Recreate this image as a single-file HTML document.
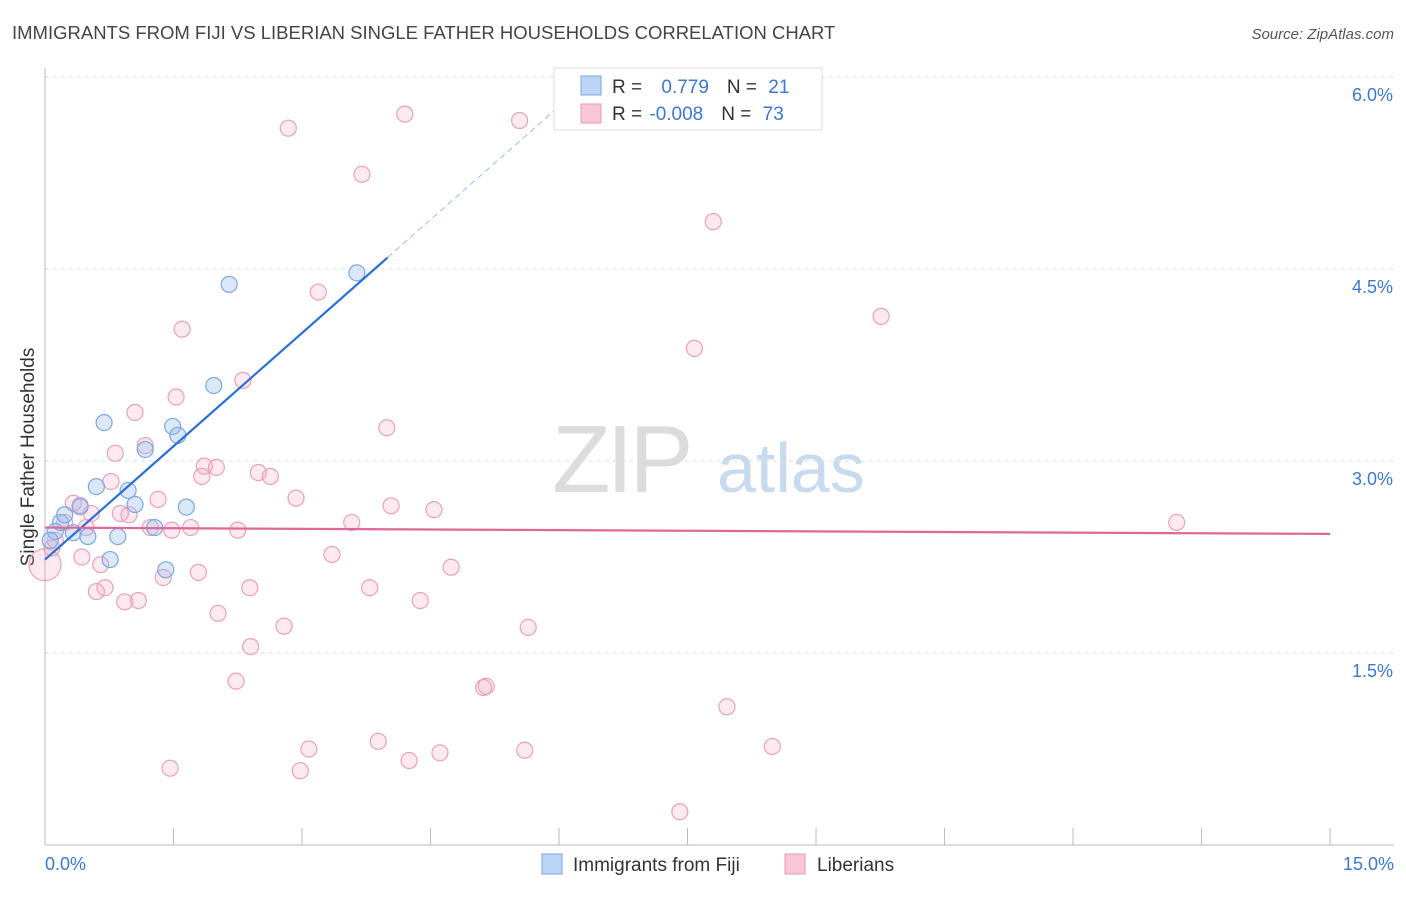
<!DOCTYPE html>
<html><head><meta charset="utf-8"><style>
body{margin:0;background:#fff;font-family:"Liberation Sans",sans-serif;}
svg text{font-family:"Liberation Sans",sans-serif;}
</style></head><body>
<svg id="chart" width="1406" height="892" xmlns="http://www.w3.org/2000/svg">
<text x="12" y="39" font-size="18.5" fill="#444">IMMIGRANTS FROM FIJI VS LIBERIAN SINGLE FATHER HOUSEHOLDS CORRELATION CHART</text>
<text x="1394" y="39" font-size="15" fill="#555" text-anchor="end" font-style="italic">Source: ZipAtlas.com</text>
<text x="34" y="457" font-size="19" fill="#333" text-anchor="middle" transform="rotate(-90 34 457)">Single Father Households</text>
<g><text x="552" y="492" font-size="96" fill="#dcdcdc" font-family="Liberation Serif" letter-spacing="-4">ZIP</text><text x="717" y="492" font-size="70" fill="#c8daf0">atlas</text></g>
<g id="grid"></g><g id="axes"></g><g id="marks"></g>
<g>
<rect x="554" y="68" width="268" height="62" fill="#fff" stroke="#ddd"/>
<rect x="581" y="76" width="20" height="19" fill="#bcd4f5" stroke="#7aa8e0"/>
<rect x="581" y="104" width="20" height="19" fill="#f9c6d6" stroke="#e899b4"/>
<text x="612" y="93" font-size="19" fill="#333">R = <tspan fill="#3a78d4" dx="14">0.779</tspan><tspan dx="18" fill="#333">N = </tspan><tspan fill="#3a78d4" dx="6">21</tspan></text>
<text x="612" y="120" font-size="19" fill="#333">R = <tspan fill="#3a78d4" dx="2">-0.008</tspan><tspan dx="18" fill="#333">N = </tspan><tspan fill="#3a78d4" dx="6">73</tspan></text>
</g>
<g>
<rect x="542" y="854" width="20" height="20" fill="#bcd4f5" stroke="#7aa8e0"/>
<text x="573" y="871" font-size="19" fill="#333">Immigrants from Fiji</text>
<rect x="785" y="854" width="20" height="20" fill="#f9c6d6" stroke="#e899b4"/>
<text x="817" y="871" font-size="19" fill="#333">Liberians</text>
</g>
</svg>
<script>
const yTicks=[1.5,3.0,4.5,6.0];
const xTickLabels=["0.0%","15.0%"];
const fijiX=[0.12,0.06,0.18,0.23,0.33,0.41,0.50,0.60,0.69,0.76,0.85,0.97,1.05,1.17,1.28,1.41,1.49,1.55,1.65,1.97,2.15,3.64];
const fijiY=[2.45,2.38,2.52,2.58,2.44,2.65,2.41,2.80,3.30,2.23,2.41,2.77,2.66,3.09,2.48,2.15,3.27,3.20,2.64,3.59,4.38,4.47];
const libX=[2.84,4.20,5.54,3.70,7.80,3.19,9.76,1.60,7.58,2.31,1.53,1.05,3.99,1.17,0.82,1.86,2.00,1.83,2.49,2.63,0.77,1.32,2.93,4.04,4.54,0.33,0.41,0.54,0.88,0.98,3.58,13.21,1.23,1.48,1.70,2.25,0.23,0.48,0.12,0.08,0.0,0.43,3.35,4.74,0.65,1.38,1.79,0.70,0.60,2.39,3.79,0.93,1.09,4.38,2.02,2.79,5.64,2.40,5.12,5.15,2.23,7.96,3.89,3.08,5.60,4.61,8.49,4.25,1.46,2.98,7.41];
const libY=[5.60,5.71,5.66,5.24,4.87,4.32,4.13,4.03,3.88,3.63,3.50,3.38,3.26,3.12,3.06,2.96,2.95,2.88,2.91,2.88,2.84,2.70,2.71,2.65,2.62,2.67,2.64,2.59,2.59,2.58,2.52,2.52,2.48,2.46,2.48,2.46,2.52,2.48,2.38,2.32,2.19,2.25,2.27,2.17,2.19,2.09,2.13,2.01,1.98,2.01,2.01,1.90,1.91,1.91,1.81,1.71,1.70,1.55,1.23,1.24,1.28,1.08,0.81,0.75,0.74,0.72,0.77,0.66,0.60,0.58,0.26];
const fijiFit=[2.23,0.59];
const libFit=[2.48,-0.0033];
const sx=v=>45+v*85.67, sy=v=>845-v*128;
const NS="http://www.w3.org/2000/svg";
function mk(parent,tag,attrs){const e=document.createElementNS(NS,tag);for(const k in attrs)e.setAttribute(k,attrs[k]);document.getElementById(parent).appendChild(e);return e;}
yTicks.forEach(t=>{
 const l=mk('grid','line',{x1:45,x2:1394,y1:sy(t),y2:sy(t),stroke:'#ddd','stroke-dasharray':'4,4'});
 
 
 const tx=mk('grid','text',{x:1393,y:sy(t)+24,'font-size':18,fill:'#3a78d4','text-anchor':'end'});tx.textContent=t.toFixed(1)+'%';
 
 
});
const ax=mk('axes','line',{x1:45,x2:45,y1:68,y2:845,stroke:'#bbb'});


const bx=mk('axes','line',{x1:45,x2:1394,y1:845,y2:845,stroke:'#bbb'});


for(let i=0;i<=10;i++){const t=mk('axes','line',{x1:sx(i*1.5),x2:sx(i*1.5),y1:828,y2:845,stroke:'#bbb'});
 
 }
[[0,'start',45],[15,'end',1394]].forEach((d,i)=>{const t=mk('axes','text',{x:d[2],y:870,'font-size':18,fill:'#3a78d4','text-anchor':d[1]});t.textContent=xTickLabels[i];
 
 });
libX.forEach((x,i)=>{const c=mk('marks','circle',{cx:sx(x),cy:sy(libY[i]),r:x===0?16:8,fill:'rgba(244,160,190,0.22)',stroke:'#eaa0bb','stroke-width':1.2});
 
 });
fijiX.forEach((x,i)=>{const c=mk('marks','circle',{cx:sx(x),cy:sy(fijiY[i]),r:8,fill:'rgba(150,190,240,0.35)',stroke:'#7aa8e0','stroke-width':1.2});
 
 });
const f=x=>fijiFit[0]+fijiFit[1]*x;
const l1=mk('marks','line',{x1:sx(0),y1:sy(f(0)),x2:sx(4.0),y2:sy(f(4.0)),stroke:'#2a6fd6','stroke-width':2.2});


const xe=(6.0-fijiFit[0])/fijiFit[1];
const l2=mk('marks','line',{x1:sx(4.0),y1:sy(f(4.0)),x2:sx(xe),y2:sy(f(xe)),stroke:'#9bbbe8','stroke-width':1,'stroke-dasharray':'6,4'});


const g=x=>libFit[0]+libFit[1]*x;
const l3=mk('marks','line',{x1:sx(0),y1:sy(g(0)),x2:sx(15),y2:sy(g(15)),stroke:'#e0679a','stroke-width':2.2});


</script>
</body></html>
